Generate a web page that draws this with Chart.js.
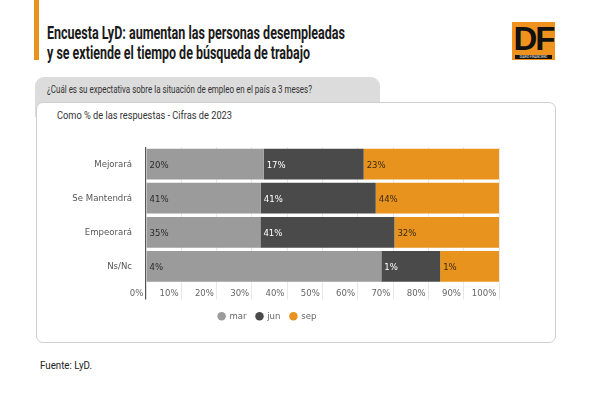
<!DOCTYPE html>
<html>
<head>
<meta charset="utf-8">
<script src="https://cdn.jsdelivr.net/npm/chart.js@4"></script>
<style>
  html, body { margin: 0; padding: 0; background: #fff; }
  body { width: 600px; height: 394px; position: relative; overflow: hidden;
         font-family: Roboto, "DejaVu Sans", sans-serif; }
  .fit { position: absolute; white-space: nowrap; transform-origin: 0 50%; }
  .accent { position: absolute; left: 34px; top: 0; width: 5px; height: 60px; background: #e8931e; }
  .title { left: 47px; font-size: 18px; font-weight: bold; line-height: 20px; color: #1a1a1a; }
  .logo { position: absolute; left: 512px; top: 22px; width: 43px; height: 38px; background: #f0921e; }
  .logo .df { position: absolute; left: 0; top: 0; width: 43px; text-align: center;
              font-family: "Liberation Sans", Arial, sans-serif; font-weight: bold; font-size: 33px;
              line-height: 34px; color: #111; letter-spacing: -2px; }
  .logo .strip { position: absolute; left: 3px; right: 3px; top: 33px; height: 4px; background: #111;
                 color: #fff; font-size: 3px; line-height: 4px; text-align: center; }
  .tab { position: absolute; left: 35px; top: 77px; width: 345px; height: 40px; background: #dcdcdc;
         border-radius: 9px 9px 0 0; }
  .question { left: 47px; top: 83px; font-size: 10.5px; line-height: 14px; color: #333; }
  .card { position: absolute; left: 36px; top: 102px; width: 518px; height: 239px; background: #fff;
          border: 1px solid #cfcfcf; border-radius: 7px; }
  .subtitle { left: 57px; top: 109px; font-size: 10.5px; line-height: 14px; color: #333; }
  .chartbox { position: absolute; left: 36px; top: 120px; width: 519px; height: 215px; }
  .source { left: 40px; top: 359px; font-size: 10.5px; line-height: 14px; color: #222; }
</style>
</head>
<body>
<div class="accent"></div>
<div class="fit title" style="top:23px" data-w="298">Encuesta LyD: aumentan las personas desempleadas</div>
<div class="fit title" style="top:43px" data-w="263">y se extiende el tiempo de búsqueda de trabajo</div>
<div class="logo"><div class="df">DF</div><div class="strip">DIARIO FINANCIERO</div></div>
<div class="tab"></div>
<div class="fit question" data-w="265">¿Cuál es su expectativa sobre la situación de empleo en el país a 3 meses?</div>
<div class="card"></div>
<div class="fit subtitle" data-w="175">Como % de las respuestas - Cifras de 2023</div>
<div class="chartbox"><canvas id="chart"></canvas></div>
<div class="fit source" data-w="52">Fuente: LyD.</div>
<script>
// the original uses a condensed face; squeeze the html text to its widths
document.querySelectorAll('.fit').forEach(el => {
  const w = el.getBoundingClientRect().width;
  el.style.transform = 'scaleX(' + (Number(el.dataset.w) / w) + ')';
});

const FONT = '"DejaVu Sans Condensed", "Liberation Sans Narrow", sans-serif';

const categories = ["Mejorará", "Se Mantendrá", "Empeorará", "Ns/Nc"];
const series = ["mar", "jun", "sep"];
const mar = [20, 41, 35, 4];
const jun = [17, 41, 41, 1];
const sep = [23, 44, 32, 1];
const xTicks = [0, 10, 20, 30, 40, 50, 60, 70, 80, 90, 100];

const colors = ["#9b9b9b", "#4a4a4a", "#e8931e"];
const labelColors = ["#2b2b2b", "#ffffff", "#3a2a12"];

const raw = [mar, jun, sep];
// the bars are drawn as shares of each row total (100% stacked)
const totals = categories.map((c, i) => mar[i] + jun[i] + sep[i]);
const shares = raw.map(arr => arr.map((v, i) => v / totals[i] * 100));

const valueLabels = {
  id: 'valueLabels',
  afterDatasetsDraw(chart) {
    const ctx = chart.ctx;
    ctx.save();
    ctx.font = '9.5px ' + FONT;
    ctx.textAlign = 'left';
    ctx.textBaseline = 'middle';
    chart.data.datasets.forEach((ds, d) => {
      const meta = chart.getDatasetMeta(d);
      meta.data.forEach((bar, i) => {
        ctx.fillStyle = labelColors[d];
        ctx.fillText(raw[d][i] + '%', Math.min(bar.x, bar.base) + 3, bar.y + 1);
      });
    });
    ctx.restore();
  }
};

new Chart(document.getElementById('chart'), {
  type: 'bar',
  data: {
    labels: categories,
    datasets: series.map((name, d) => ({
      label: name,
      data: shares[d],
      backgroundColor: colors[d],
      borderWidth: 0,
      categoryPercentage: 1,
      barPercentage: 0.9
    }))
  },
  options: {
    indexAxis: 'y',
    responsive: true,
    maintainAspectRatio: false,
    animation: false,
    layout: { padding: { top: 27, right: 56, left: 0, bottom: 4 } },
    scales: {
      x: {
        stacked: true,
        min: 0,
        max: 100,
        afterBuildTicks(axis) { axis.ticks = xTicks.map(v => ({ value: v })); },
        afterFit(axis) { axis.height = 18; },
        border: { display: false },
        grid: {
          color: c => (c.tick && c.tick.value === 0) ? '#555555' : '#e8e8e8',
          lineWidth: c => (c.tick && c.tick.value === 0) ? 1.2 : 1,
          tickLength: 16
        },
        ticks: {
          align: 'end',
          padding: -12,
          maxRotation: 0,
          minRotation: 0,
          autoSkip: false,
          color: '#666',
          font: { family: FONT, size: 9.5 },
          callback: v => v + '% '
        }
      },
      y: {
        stacked: true,
        afterFit(axis) { axis.width = 110; },
        border: { display: false },
        grid: { display: false },
        ticks: {
          padding: 6,
          color: '#555',
          font: { family: FONT, size: 9.5 }
        }
      }
    },
    plugins: {
      legend: {
        position: 'bottom',
        labels: {
          usePointStyle: true,
          pointStyle: 'circle',
          boxWidth: 6,
          boxHeight: 6,
          padding: 10,
          color: '#666',
          font: { family: FONT, size: 9.5 }
        }
      },
      tooltip: { enabled: false }
    }
  },
  plugins: [valueLabels]
});
</script>
</body>
</html>
